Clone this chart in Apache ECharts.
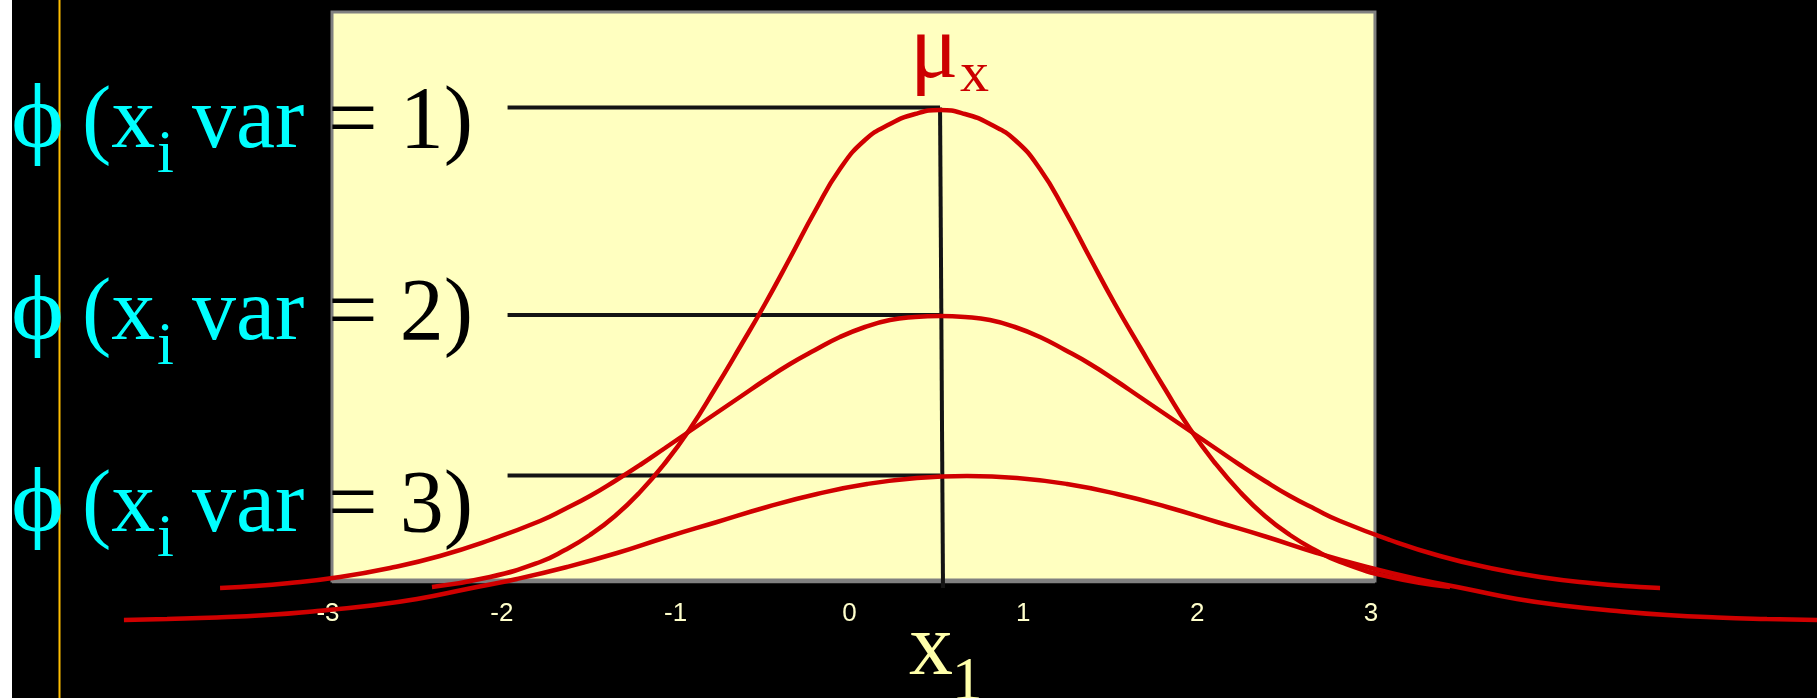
<!DOCTYPE html>
<html>
<head>
<meta charset="utf-8">
<title>phi var curves</title>
<script src="https://cdn.jsdelivr.net/npm/echarts@6/dist/echarts.min.js"></script>
<style>
  html, body { margin: 0; padding: 0; background: #000; }
  #chart { width: 1817px; height: 698px; }
</style>
</head>
<body>
<div id="chart"></div>
<script>
// axe x : la boite jaune va de -3 a 3, les queues des courbes debordent
const boxMinX = -3
const boxMaxX = 3
const boxMaxY = 0.569
const viewMinX = -4.91
const viewMaxX = 5.543
const tickValues = [-3, -2, -1, 0, 1, 2, 3]

// courbe var = 1 (la plus haute)
const var1X = [-2.425, -2.091, -1.803, -1.660, -1.516, -1.372, -1.228, -1.084, -0.941, -0.797, -0.653, -0.509, -0.365, -0.221, -0.078, 0.066, 0.210, 0.354, 0.498, 0.641, 0.785, 0.929, 1.073, 1.217, 1.361, 1.504, 1.648, 1.792, 1.936, 2.080, 2.224, 2.367, 2.511, 2.655, 2.799, 3.086, 3.432]
const var1Y = [-0.006, 0.004, 0.019, 0.031, 0.046, 0.065, 0.089, 0.118, 0.152, 0.192, 0.234, 0.277, 0.323, 0.370, 0.412, 0.441, 0.457, 0.467, 0.471, 0.467, 0.457, 0.441, 0.412, 0.370, 0.323, 0.277, 0.234, 0.192, 0.152, 0.118, 0.089, 0.065, 0.046, 0.031, 0.019, 0.004, -0.006]

// courbe var = 2
const var2X = [-3.644, -3.529, -3.242, -2.954, -2.666, -2.379, -2.091, -1.803, -1.660, -1.516, -1.372, -1.228, -1.084, -0.941, -0.797, -0.653, -0.509, -0.365, -0.221, -0.078, 0.066, 0.210, 0.354, 0.498, 0.641, 0.785, 0.929, 1.073, 1.217, 1.361, 1.504, 1.648, 1.792, 1.936, 2.080, 2.224, 2.367, 2.511, 2.655, 2.799, 3.086, 3.374, 3.662, 3.949, 4.237, 4.525, 4.640]
const var2Y = [-0.007, -0.006, -0.002, 0.004, 0.013, 0.025, 0.041, 0.060, 0.072, 0.085, 0.100, 0.116, 0.133, 0.150, 0.167, 0.184, 0.201, 0.217, 0.231, 0.244, 0.254, 0.261, 0.264, 0.265, 0.264, 0.261, 0.254, 0.244, 0.231, 0.217, 0.201, 0.184, 0.167, 0.150, 0.133, 0.116, 0.100, 0.085, 0.072, 0.060, 0.041, 0.025, 0.013, 0.004, -0.002, -0.006, -0.007]

// courbe var = 3 (la plus plate)
const var3X = [-4.197, -3.949, -3.662, -3.374, -3.086, -2.799, -2.511, -2.223, -1.936, -1.648, -1.360, -1.073, -0.785, -0.498, -0.210, 0.078, 0.365, 0.653, 0.941, 1.228, 1.516, 1.804, 2.091, 2.379, 2.667, 2.954, 3.242, 3.529, 3.817, 4.105, 4.392, 4.680, 4.968, 5.255, 5.543]
const var3Y = [-0.039, -0.038, -0.0365, -0.034, -0.030, -0.025, -0.018, -0.008, 0.002, 0.014, 0.028, 0.044, 0.059, 0.074, 0.087, 0.097, 0.103, 0.105, 0.103, 0.097, 0.087, 0.074, 0.059, 0.044, 0.028, 0.014, 0.002, -0.008, -0.018, -0.025, -0.030, -0.034, -0.0365, -0.038, -0.039]

// traits noirs : niveaux des sommets et moyenne
const guideLevels = [0.4735, 0.266, 0.1055]
const guideFromX = -1.99
const meanTopX = 0.498
const meanBottomX = 0.515
const meanBottomY = -0.007

const RED = '#D00000'
const INK = '#141414'
const CYAN = '#00FFFF'
const GRAY = '#808080'
const SERIF = '"Liberation Serif", "Times New Roman", serif'

const pairs = (xs, ys) => xs.map((x, i) => [x, ys[i]])

// texte place sur sa ligne de base
const txt = (str, x, base, size, color, extra) => Object.assign({
  type: 'text',
  x: x,
  y: base - size * 0.3375,
  z: 100,
  silent: true,
  style: {
    text: str,
    fill: color,
    font: size + 'px ' + SERIF,
    align: 'left',
    verticalAlign: 'middle'
  }
}, extra || {})

const rowLabel = (n, base) => [
  txt('\u03D5', 11, base, 90, CYAN, { scaleX: 1.12 }),
  txt('(x', 82, base, 88, CYAN),
  txt('i', 157, base + 23, 61, CYAN),
  txt('var', 192, base, 88, CYAN),
  txt('= ' + n + ')', 328, base, 88, '#000')
]

const chart = echarts.init(document.getElementById('chart'))

const guideSeries = guideLevels.map(lvl => ({
  type: 'line',
  data: [[guideFromX, lvl], [meanTopX, lvl]],
  symbol: 'none',
  clip: false,
  lineStyle: { color: INK, width: 4 },
  z: 2
}))

const curve = (xs, ys) => ({
  type: 'line',
  data: pairs(xs, ys),
  smooth: true,
  symbol: 'none',
  clip: false,
  lineStyle: { color: RED, width: 4.5 },
  z: 3
})

chart.setOption({
  backgroundColor: '#000',
  animation: false,
  grid: {
    left: 0,
    top: 12,
    width: 1817,
    height: 569
  },
  xAxis: {
    type: 'value',
    min: viewMinX,
    max: viewMaxX,
    axisLine: { show: false },
    axisTick: { show: false },
    splitLine: { show: false },
    axisLabel: {
      customValues: tickValues,
      color: '#FFFFCC',
      fontSize: 26,
      fontFamily: '"Liberation Sans", Arial, sans-serif',
      margin: 20,
      padding: [0, 8, 0, 0]
    }
  },
  yAxis: {
    type: 'value',
    min: 0,
    max: boxMaxY,
    show: false
  },
  series: [
    {
      // boite jaune du graphique
      type: 'line',
      data: [[boxMinX, 0], [boxMaxX, 0]],
      symbol: 'none',
      lineStyle: { color: GRAY, width: 5 },
      z: 1,
      markArea: {
        silent: true,
        itemStyle: { color: '#FFFFC0', borderColor: GRAY, borderWidth: 3 },
        data: [[{ coord: [boxMinX, 0] }, { coord: [boxMaxX, boxMaxY] }]]
      }
    },
    ...guideSeries,
    {
      type: 'line',
      data: [[meanTopX, guideLevels[0]], [meanBottomX, meanBottomY]],
      symbol: 'none',
      clip: false,
      lineStyle: { color: INK, width: 4 },
      z: 2
    },
    curve(var1X, var1Y),
    curve(var2X, var2Y),
    curve(var3X, var3Y)
  ],
  graphic: [
    { type: 'rect', shape: { x: 0, y: 0, width: 12, height: 698 }, style: { fill: '#FFFFFF' }, silent: true },
    { type: 'line', shape: { x1: 59.5, y1: 0, x2: 59.5, y2: 698 }, style: { stroke: '#FFBE00', lineWidth: 2 }, silent: true },
    ...rowLabel(1, 154),
    ...rowLabel(2, 346),
    ...rowLabel(3, 538),
    txt('\u03BC', 910, 84, 90, '#CC0000'),
    txt('x', 960, 95, 58, '#CC0000'),
    txt('x', 909, 681, 88, '#FFFFAA'),
    txt('1', 952, 704, 61, '#FFFFAA')
  ]
})

window.addEventListener('resize', () => chart.resize())
</script>
</body>
</html>
